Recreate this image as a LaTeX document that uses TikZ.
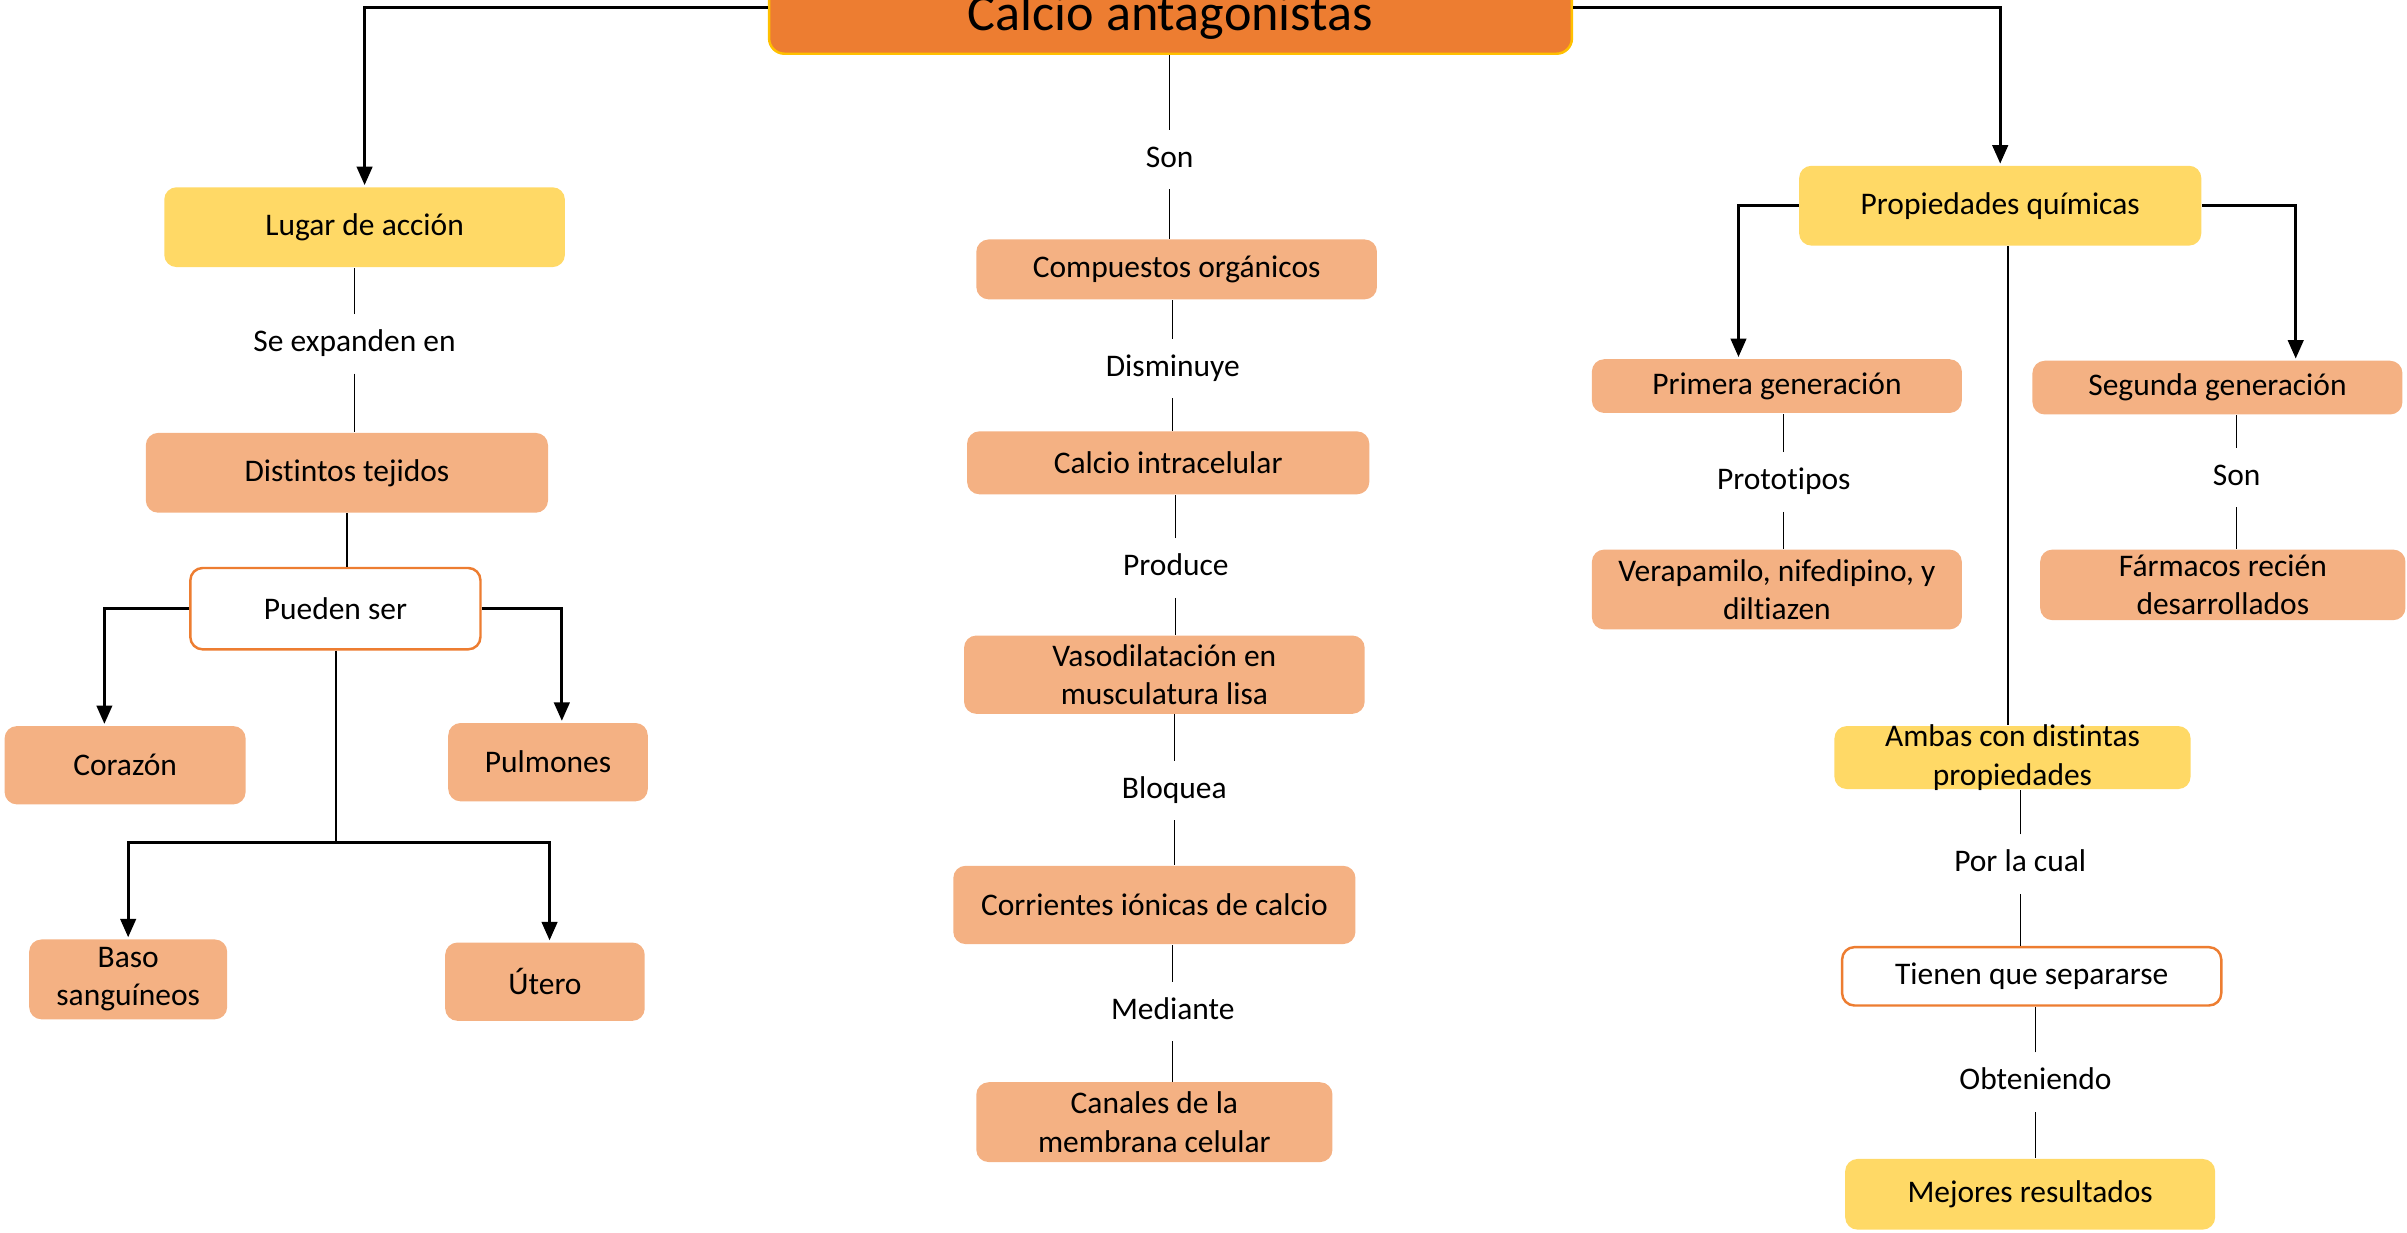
\documentclass[tikz,border=0pt]{standalone}
\usepackage{fontspec}
\setmainfont{Carlito}[Ligatures=NoCommon]
\usetikzlibrary{arrows.meta}
\definecolor{orange1}{HTML}{ED7D31}
\definecolor{gold1}{HTML}{FFC000}
\definecolor{yellow1}{HTML}{FFD966}
\definecolor{peach1}{HTML}{F4B183}

\begin{document}
\begin{tikzpicture}[x=1pt,y=-1pt,>={Triangle[length=12pt,width=10pt]},
                    line width=0.8pt]
  \tikzstyle{every node}=[font=\fontsize{20.5}{25}\selectfont,align=center]
  \tikzstyle{yellowbox}=[fill=yellow1,rounded corners=8pt,inner sep=0pt]
  \tikzstyle{peachbox}=[fill=peach1,rounded corners=8pt,inner sep=0pt]
  \tikzstyle{whitebox}=[draw=orange1,line width=1.6pt,fill=white,rounded corners=8pt,inner sep=0pt]
  \tikzstyle{link}=[text height=15pt,text depth=5pt,inner ysep=9pt,inner xsep=2pt]
  \tikzstyle{arr}=[->,shorten >=1pt,line width=2pt]
  \useasboundingbox (0,0) rectangle (1568,803);
  \clip (0,0) rectangle (1568,803);

  % title
  \node[fill=orange1,draw=gold1,line width=1.6pt,rounded corners=10pt,
        minimum width=523pt,minimum height=60pt,text height=30pt,text depth=0pt,
        font=\fontsize{34}{40}\selectfont] (title) at (762.5,5) {Calcio antagonistas};

  % left column
  \node[yellowbox,minimum width=261pt,minimum height=52pt] (lugar)    at (237.5,148) {Lugar de acción};
  \node[link]                                             (expanden) at (231,224)   {Se expanden en};
  \node[peachbox,minimum width=262pt,minimum height=52pt] (tejidos)  at (226,308)   {Distintos tejidos};
  \node[whitebox,minimum width=189pt,minimum height=53pt] (pueden)   at (218.5,396.5) {Pueden ser};
  \node[peachbox,minimum width=157pt,minimum height=51pt] (corazon)  at (81.5,498.5) {Corazón};
  \node[peachbox,minimum width=130pt,minimum height=51pt] (pulmones) at (357,496.5)  {Pulmones};
  \node[peachbox,minimum width=129pt,minimum height=52pt] (baso)     at (83.5,638)   {Baso\\sanguíneos};
  \node[peachbox,minimum width=130pt,minimum height=51pt] (utero)    at (355,639.5)  {Útero};
  \coordinate (split) at (219,549);

  % middle column
  \node[link]                                             (son1)     at (762,104)    {Son};
  \node[peachbox,minimum width=261pt,minimum height=39pt] (compuestos) at (766.5,175.5) {Compuestos orgánicos};
  \node[link]                                             (disminuye) at (764,240)   {Disminuye};
  \node[peachbox,minimum width=262pt,minimum height=41pt] (intracel) at (761,301.5)  {Calcio intracelular};
  \node[link]                                             (produce)  at (766,370)    {Produce};
  \node[peachbox,minimum width=261pt,minimum height=51pt] (vaso)     at (758.5,439.5) {Vasodilatación en\\musculatura lisa};
  \node[link]                                             (bloquea)  at (765,515)    {Bloquea};
  \node[peachbox,minimum width=262pt,minimum height=51pt] (corrientes) at (752,589.5) {Corrientes iónicas de calcio};
  \node[link]                                             (mediante) at (764,659)    {Mediante};
  \node[peachbox,minimum width=232pt,minimum height=52pt] (canales)  at (752,731)    {Canales de la\\membrana celular};

  % right column
  \node[yellowbox,minimum width=262pt,minimum height=52pt] (propiedades) at (1303,134) {Propiedades químicas};
  \node[peachbox,minimum width=241pt,minimum height=35pt]  (primera)  at (1157.5,251.5) {Primera generación};
  \node[peachbox,minimum width=241pt,minimum height=35pt]  (segunda)  at (1444.5,252.5) {Segunda generación};
  \node[link]                                              (prototipos) at (1162,314) {Prototipos};
  \node[link]                                              (son2)     at (1457,311)   {Son};
  \node[peachbox,minimum width=241pt,minimum height=52pt]  (verapamilo) at (1157.5,384) {Verapamilo, nifedipino, y\\diltiazen};
  \node[peachbox,minimum width=238pt,minimum height=46pt]  (farmacos) at (1448,381)   {Fármacos recién\\desarrollados};
  \node[yellowbox,minimum width=232pt,minimum height=41pt,inner ysep=-3pt] (ambas) at (1311,493.5) {Ambas con distintas\\propiedades};
  \node[link]                                              (porlacual) at (1316,563)  {Por la cual};
  \node[whitebox,minimum width=247pt,minimum height=38pt]  (separarse) at (1323.5,636) {Tienen que separarse};
  \node[link]                                              (obteniendo) at (1326,705) {Obteniendo};
  \node[yellowbox,minimum width=241pt,minimum height=46pt] (mejores)  at (1322.5,778) {Mejores resultados};

  % arrows
  \draw[arr] (title.west) -| (lugar.north);
  \draw[arr] (title.east) -| (propiedades.north);
  \draw[arr] (pueden.west) -| ([xshift=-13.5pt]corazon.north);
  \draw[arr] (pueden.east) -| ([xshift=9pt]pulmones.north);
  \draw[line width=1pt] (pueden.south -| split) -- (split);
  \draw[arr] (split) -| (baso.north);
  \draw[arr] (split) -| ([xshift=3pt]utero.north);
  \draw[arr] (propiedades.west) -| ([xshift=-25pt]primera.north);
  \draw[arr] (propiedades.east) -| ([xshift=51pt]segunda.north);

  % plain links
  \path (expanden.north)   edge (expanden.north |- lugar.south)
        (expanden.south)   edge (expanden.south |- tejidos.north)
        (pueden.north -| tejidos.south) edge (tejidos.south)
        (son1.north)       edge (son1.north |- title.south)
        (son1.south)       edge (son1.south |- compuestos.north)
        (disminuye.north)  edge (disminuye.north |- compuestos.south)
        (disminuye.south)  edge (disminuye.south |- intracel.north)
        (produce.north)    edge (produce.north |- intracel.south)
        (produce.south)    edge (produce.south |- vaso.north)
        (bloquea.north)    edge (bloquea.north |- vaso.south)
        (bloquea.south)    edge (bloquea.south |- corrientes.north)
        (mediante.north)   edge (mediante.north |- corrientes.south)
        (mediante.south)   edge (mediante.south |- canales.north)
        (prototipos.north) edge (prototipos.north |- primera.south)
        (prototipos.south) edge (prototipos.south |- verapamilo.north)
        (son2.north)       edge (son2.north |- segunda.south)
        (son2.south)       edge (son2.south |- farmacos.north)
        ([xshift=5pt]propiedades.south) edge ([xshift=5pt]propiedades.south |- ambas.north)
        (porlacual.north)  edge (porlacual.north |- ambas.south)
        (porlacual.south)  edge (porlacual.south |- separarse.north)
        (obteniendo.north) edge (obteniendo.north |- separarse.south)
        (obteniendo.south) edge (obteniendo.south |- mejores.north);
\end{tikzpicture}
\end{document}
